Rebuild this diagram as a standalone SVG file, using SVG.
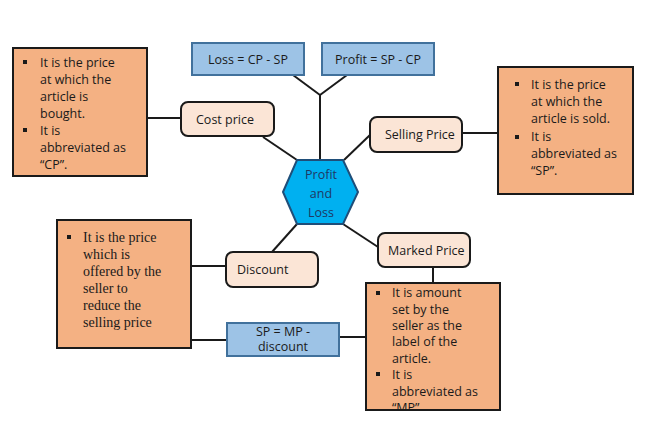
<svg xmlns="http://www.w3.org/2000/svg" width="652" height="430" viewBox="0 0 652 430">
<defs>
<style>
.note{fill:#F4B183;stroke:#1a1a1a;stroke-width:2}
.lab{fill:#FBE5D6;stroke:#1a1a1a;stroke-width:2}
.eq{fill:#9DC3E6;stroke:#41719C;stroke-width:2}
text{font-family:"Open Sans","Liberation Sans",sans-serif;font-size:12.5px;fill:#1a1a1a}
.serif{font-family:"Liberation Serif",serif;font-size:14px}
.c{text-anchor:middle}
.con line{stroke:#1a1a1a;stroke-width:2}
</style>
<clipPath id="mpclip"><rect x="366" y="283" width="134" height="127"/></clipPath>
</defs>
<rect width="652" height="430" fill="#fff"/>
<g class="con">
<line x1="293" y1="75" x2="320" y2="95"/><line x1="347" y1="75" x2="320" y2="95"/><line x1="320" y1="95" x2="320" y2="160"/>
<line x1="147" y1="118" x2="181" y2="118"/><line x1="263" y1="137" x2="297" y2="160"/>
<line x1="344" y1="160" x2="370" y2="135"/><line x1="462" y1="133" x2="498" y2="133"/>
<line x1="297" y1="224" x2="272" y2="252"/><line x1="191" y1="266" x2="226" y2="266"/><line x1="191" y1="340" x2="227" y2="340"/>
<line x1="343" y1="224" x2="378" y2="247"/><line x1="433" y1="267" x2="433" y2="283"/><line x1="339" y1="337" x2="366" y2="337"/>
</g>
<g id="loss"><rect class="eq" x="192" y="43" width="112" height="32"/><text class="c" x="248" y="64">Loss = CP - SP</text></g>
<g id="profit"><rect class="eq" x="322" y="43" width="112" height="32"/><text class="c" x="378" y="64">Profit = SP - CP</text></g>
<g id="hub"><polygon points="283,192 297,160 343,160 358,192 343,224 297,224" fill="#00B0F0" stroke="#1F4E79" stroke-width="2"/>
<text class="c" x="321" y="179" style="fill:#1F3864">Profit</text><text class="c" x="321" y="198" style="fill:#1F3864">and</text><text class="c" x="321" y="217" style="fill:#1F3864">Loss</text></g>
<g id="cp-note"><rect class="note" x="13" y="48" width="134" height="128"/>
<rect x="23" y="60" width="4" height="4" fill="#1a1a1a"/><rect x="23" y="128" width="4" height="4" fill="#1a1a1a"/>
<text x="40" y="67">It is the price</text><text x="40" y="84">at which the</text><text x="40" y="101">article is</text><text x="40" y="118">bought.</text><text x="40" y="135">It is</text><text x="40" y="152">abbreviated as</text><text x="40" y="169">“CP”.</text></g>
<g id="cost"><rect class="lab" x="181" y="102" width="93" height="34" rx="7"/><text x="196" y="124">Cost price</text></g>
<g id="selling"><rect class="lab" x="370" y="117" width="92" height="35" rx="7"/><text x="385" y="139">Selling Price</text></g>
<g id="sp-note"><rect class="note" x="498" y="67" width="135" height="127"/>
<rect x="515" y="82" width="4" height="4" fill="#1a1a1a"/><rect x="515" y="135" width="4" height="4" fill="#1a1a1a"/>
<text x="531" y="89">It is the price</text><text x="531" y="106">at which the</text><text x="531" y="123">article is sold.</text><text x="531" y="141">It is</text><text x="531" y="158">abbreviated as</text><text x="531" y="175">“SP”.</text></g>
<g id="disc-note"><rect class="note" x="57" y="220" width="134" height="128"/>
<rect x="67" y="235" width="4" height="4" fill="#1a1a1a"/>
<text class="serif" x="83" y="242">It is the price</text><text class="serif" x="83" y="259">which is</text><text class="serif" x="83" y="276">offered by the</text><text class="serif" x="83" y="293">seller to</text><text class="serif" x="83" y="310">reduce the</text><text class="serif" x="83" y="327">selling  price</text></g>
<g id="discount"><rect class="lab" x="226" y="252" width="92" height="35" rx="7"/><text x="237" y="274">Discount</text></g>
<g id="marked"><rect class="lab" x="378" y="233" width="92" height="34" rx="7"/><text x="388" y="255">Marked Price</text></g>
<g id="spmp"><rect class="eq" x="227" y="323" width="112" height="33"/><text class="c" x="283" y="336">SP = MP -</text><text class="c" x="283" y="351">discount</text></g>
<g id="mp-note"><rect class="note" x="366" y="283" width="134" height="127"/>
<g clip-path="url(#mpclip)">
<rect x="376" y="291" width="4" height="4" fill="#1a1a1a"/><rect x="376" y="372" width="4" height="4" fill="#1a1a1a"/>
<text x="392" y="297">It is amount</text><text x="392" y="314">set by the</text><text x="392" y="330">seller as the</text><text x="392" y="346">label of the</text><text x="392" y="363">article.</text><text x="392" y="379">It is</text><text x="392" y="396">abbreviated as</text><text x="392" y="412">“MP”.</text></g></g>
</svg>
